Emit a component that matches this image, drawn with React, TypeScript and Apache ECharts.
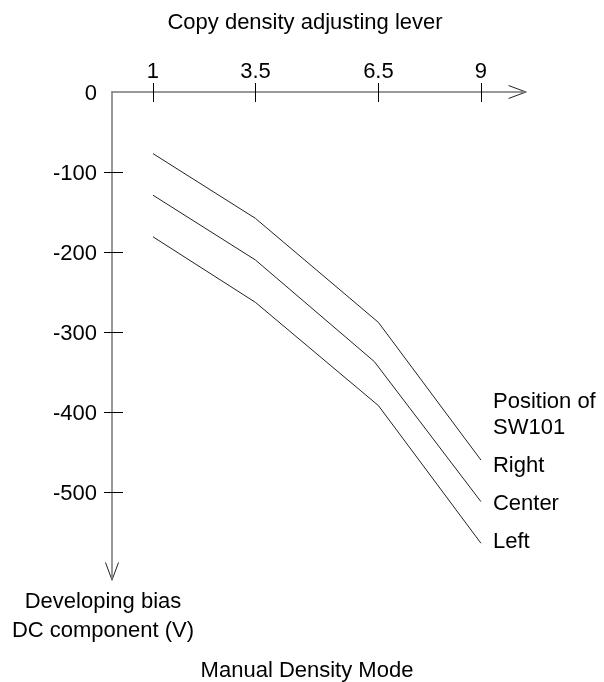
import React, { useEffect, useRef } from "react";
import * as echarts from "echarts";

// ---- data ----
const xTicks = [1, 3.5, 6.5, 9];
const yTickValues = [-100, -200, -300, -400, -500];
const yLabelValues = [0, -100, -200, -300, -400, -500];

const rightX = [1, 3.5, 6.5, 9];
const rightY = [-77, -158, -288, -460];
const centerX = [1, 3.5, 6.4, 9];
const centerY = [-129, -210, -337, -512];
const leftX = [1, 3.5, 6.5, 9];
const leftY = [-181, -263, -392, -564];

const seriesNames = ["Right", "Center", "Left"];

const topTitle = "Copy density adjusting lever";
const legendTitle = ["Position of", "SW101"];
const yTitle = ["Developing bias", "DC component (V)"];
const bottomTitle = "Manual Density Mode";

const X_MAX = 10.1;
const Y_MIN = -610;

const FONT = '"Liberation Sans", Arial, sans-serif';

function pairs(xs: number[], ys: number[]) {
  return xs.map((x, i) => [x, ys[i]]);
}

export default function App() {
  const ref = useRef<HTMLDivElement>(null);

  useEffect(() => {
    if (!ref.current) return;
    const chart = echarts.init(ref.current, undefined, { renderer: "svg" });

    const txt = (
      text: string,
      x: number,
      y: number,
      align: string = "center"
    ) => ({
      type: "text",
      x,
      y,
      silent: true,
      style: {
        text,
        font: `22px ${FONT}`,
        fill: "#000",
        align,
        verticalAlign: "middle",
      },
    });

    const lineColor = "#222";
    const mkSeries = (name: string, data: number[][], dy: number) => ({
      name,
      type: "line",
      data,
      xAxisIndex: 0,
      yAxisIndex: 0,
      showSymbol: false,
      symbol: "none",
      silent: true,
      lineStyle: { color: lineColor, width: 1 },
      emphasis: { disabled: true },
      endLabel: {
        show: true,
        formatter: "{a}",
        distance: 12,
        offset: [0, dy],
        fontSize: 22,
        fontFamily: FONT,
        color: "#000",
      },
    });

    const gridRect = { left: 112, top: 92, width: 414, height: 488, containLabel: false };
    const tickLine = { color: "#000", width: 1 };

    const option: any = {
      animation: false,
      textStyle: { fontFamily: FONT },
      grid: [gridRect, { ...gridRect }],
      xAxis: [
        {
          type: "value",
          gridIndex: 0,
          position: "top",
          min: 0,
          max: X_MAX,
          splitLine: { show: false },
          axisLine: { show: true, lineStyle: { color: "#777", width: 1.5 } },
          axisTick: {
            show: true,
            customValues: xTicks,
            length: 9,
            inside: false,
            lineStyle: tickLine,
          },
          axisLabel: {
            show: true,
            customValues: xTicks,
            margin: 11,
            fontSize: 22,
            fontFamily: FONT,
            color: "#000",
          },
        },
        {
          type: "value",
          gridIndex: 1,
          position: "top",
          min: 0,
          max: X_MAX,
          splitLine: { show: false },
          axisLine: { show: false },
          axisTick: {
            show: true,
            customValues: xTicks,
            length: 10,
            inside: true,
            lineStyle: tickLine,
          },
          axisLabel: { show: false },
        },
      ],
      yAxis: [
        {
          type: "value",
          gridIndex: 0,
          position: "left",
          min: Y_MIN,
          max: 0,
          splitLine: { show: false },
          axisLine: { show: true, lineStyle: { color: "#777", width: 1.5 } },
          axisTick: {
            show: true,
            customValues: yTickValues,
            length: 8,
            inside: false,
            lineStyle: tickLine,
          },
          axisLabel: {
            show: true,
            customValues: yLabelValues,
            margin: 15,
            fontSize: 22,
            fontFamily: FONT,
            color: "#000",
          },
        },
        {
          type: "value",
          gridIndex: 1,
          position: "left",
          min: Y_MIN,
          max: 0,
          splitLine: { show: false },
          axisLine: { show: false },
          axisTick: {
            show: true,
            customValues: yTickValues,
            length: 11,
            inside: true,
            lineStyle: tickLine,
          },
          axisLabel: { show: false },
        },
      ],
      series: [
        mkSeries(seriesNames[0], pairs(rightX, rightY), 4),
        mkSeries(seriesNames[1], pairs(centerX, centerY), 1),
        mkSeries(seriesNames[2], pairs(leftX, leftY), -3),
      ],
    };

    chart.setOption(option);

    const xTip = chart.convertToPixel({ gridIndex: 0 }, [X_MAX, 0]) as number[];
    const yTip = chart.convertToPixel({ gridIndex: 0 }, [0, Y_MIN]) as number[];
    const L = 17.5;
    const W = 6.5;
    const arrowStyle = { stroke: "#222", lineWidth: 1, fill: "none" };

    chart.setOption({
      graphic: [
        {
          type: "polyline",
          silent: true,
          shape: {
            points: [
              [xTip[0] - L, xTip[1] - W],
              [xTip[0], xTip[1]],
              [xTip[0] - L, xTip[1] + W],
            ],
          },
          style: arrowStyle,
        },
        {
          type: "polyline",
          silent: true,
          shape: {
            points: [
              [yTip[0] - W, yTip[1] - L],
              [yTip[0], yTip[1]],
              [yTip[0] + W, yTip[1] - L],
            ],
          },
          style: arrowStyle,
        },
        txt(topTitle, 305, 21.7),
        txt(legendTitle[0], 493, 400.5, "left"),
        txt(legendTitle[1], 493, 426, "left"),
        txt(yTitle[0], 103, 600.5),
        txt(yTitle[1], 103, 629),
        txt(bottomTitle, 307, 669),
      ],
    });

    return () => chart.dispose();
  }, []);

  return (
    <div
      ref={ref}
      style={{ position: "fixed", left: 0, top: 0, width: 604, height: 682 }}
    />
  );
}
